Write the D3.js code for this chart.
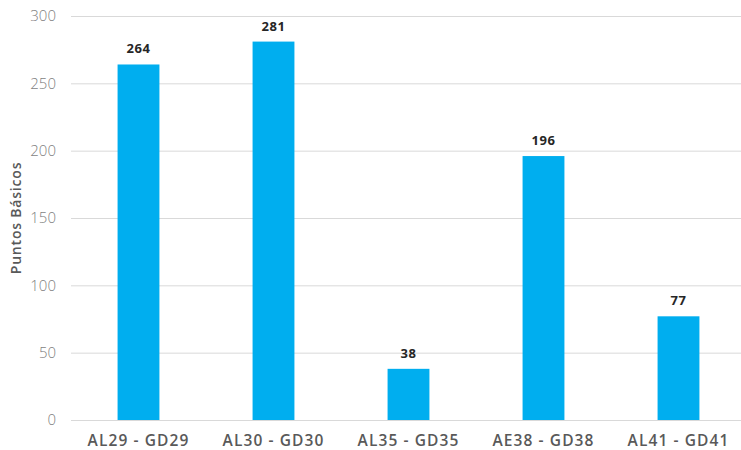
<!DOCTYPE html>
<html>
<head>
<meta charset="utf-8">
<script src="https://cdn.jsdelivr.net/npm/d3@7"></script>
<style>
  html, body { margin: 0; padding: 0; background: #fff; }
  svg text { font-family: "Open Sans", Lato, sans-serif; }
</style>
</head>
<body>
<svg id="chart" width="741" height="450"></svg>
<script>
// Spreads between bond pairs, in basis points
const categories = ["AL29 - GD29", "AL30 - GD30", "AL35 - GD35", "AE38 - GD38", "AL41 - GD41"];
const values = [264, 281, 38, 196, 77];
const yTicks = [0, 50, 100, 150, 200, 250, 300];

const svg = d3.select("#chart");
const margin = { left: 71, right: -5, top: 16, bottom: 30 };
const W = 741, H = 450;

const x = d3.scaleBand()
  .domain(categories)
  .range([margin.left, W - margin.right])
  .paddingInner(0.69)
  .paddingOuter(0.345);

const y = d3.scaleLinear()
  .domain([0, 300])
  .range([H - margin.bottom, margin.top]);

// Horizontal gridlines
svg.append("g")
  .selectAll("line")
  .data(yTicks)
  .join("line")
  .attr("x1", margin.left)
  .attr("x2", W)
  .attr("y1", d => y(d) + 0.5)
  .attr("y2", d => y(d) + 0.5)
  .attr("stroke", "#d9d9d9")
  .attr("stroke-width", 1);

// Y axis labels
const yAxis = d3.axisLeft(y).tickValues(yTicks).tickSize(0).tickPadding(0);
const gy = svg.append("g")
  .attr("transform", `translate(${56},0)`)
  .call(yAxis);
gy.select(".domain").remove();
gy.selectAll("text")
  .attr("fill", "#7f7f7f")
  .style("font-size", "15px")
  .style("font-weight", "300");

// Bars
svg.append("g")
  .selectAll("rect")
  .data(values)
  .join("rect")
  .attr("x", (d, i) => x(categories[i]))
  .attr("width", x.bandwidth())
  .attr("y", d => y(d))
  .attr("height", d => y(0) - y(d))
  .attr("fill", "#00aeef");

// Value labels
svg.append("g")
  .selectAll("text")
  .data(values)
  .join("text")
  .attr("x", (d, i) => x(categories[i]) + x.bandwidth() / 2)
  .attr("y", d => y(d) - 11)
  .attr("text-anchor", "middle")
  .attr("fill", "#262626")
  .style("font-size", "13px")
  .style("font-weight", "700")
  .style("letter-spacing", "0.6px")
  .text(d => d);

// Category labels
const xAxis = d3.axisBottom(x).tickSize(0).tickPadding(0);
const gx = svg.append("g")
  .attr("transform", `translate(0,${y(0) + 15})`)
  .call(xAxis);
gx.select(".domain").remove();
gx.selectAll("text")
  .attr("fill", "#595959")
  .style("font-size", "15.5px")
  .style("font-weight", "600")
  .style("letter-spacing", "1.1px");

// Axis title
svg.append("text")
  .attr("transform", `translate(21,${(y(0) + y(300)) / 2}) rotate(-90)`)
  .attr("text-anchor", "middle")
  .attr("fill", "#595959")
  .style("font-size", "14px")
  .style("font-weight", "600")
  .style("letter-spacing", "0.8px")
  .text("Puntos Básicos");
</script>
</body>
</html>
